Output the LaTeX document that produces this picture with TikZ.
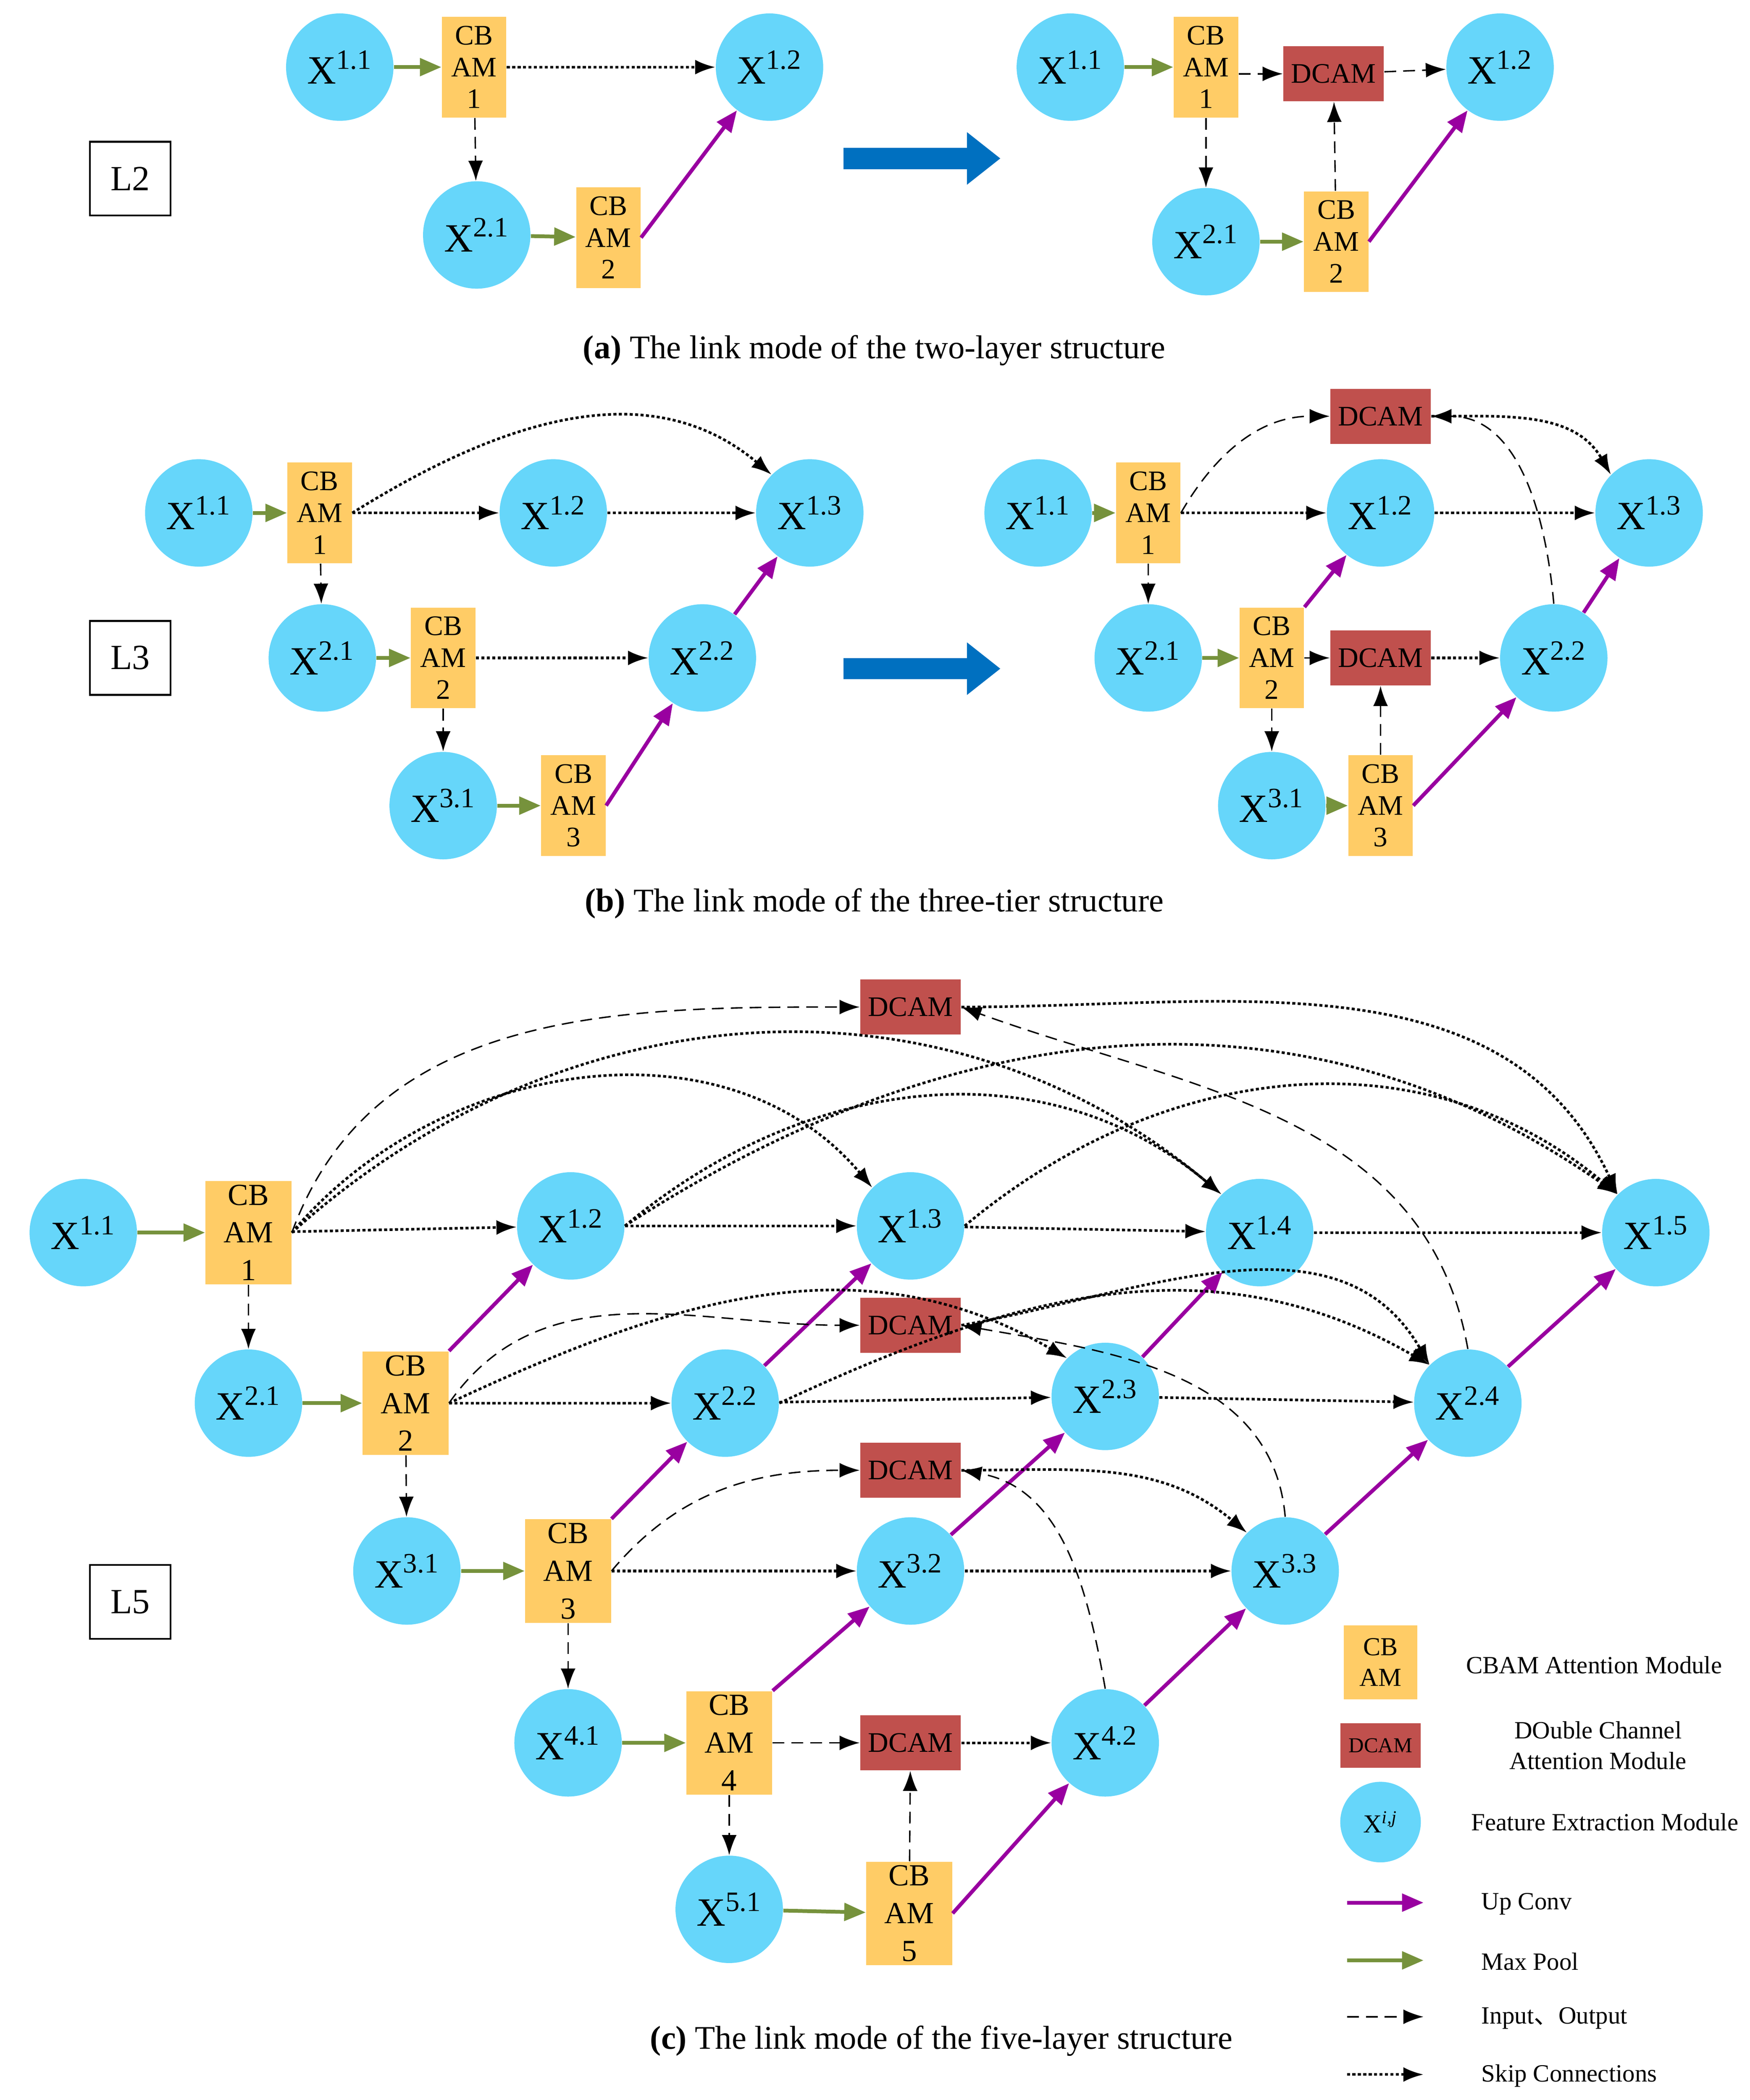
\documentclass[tikz,border=0pt]{standalone}
\usepackage{fontspec}
\setmainfont{Liberation Serif}
\newfontfamily\cjk{Noto Sans CJK SC}
\usetikzlibrary{arrows.meta}
\definecolor{featblue}{RGB}{102,214,250}
\definecolor{cbamorange}{RGB}{255,204,102}
\definecolor{dcamred}{RGB}{192,80,77}
\definecolor{poolgreen}{RGB}{118,146,60}
\definecolor{upviolet}{RGB}{153,0,160}
\definecolor{bigblue}{RGB}{0,112,192}
\newcommand{\Xf}[1]{X\textsuperscript{#1}}
\begin{document}
\begin{tikzpicture}
   [  x=0.02cm, y=-0.02cm,
      feat/.style={circle,fill=featblue,minimum size=1.6cm,inner sep=0pt,font=\fontsize{17}{17}\selectfont},
      cb/.style={fill=cbamorange,minimum width=0.96cm,minimum height=1.5cm,inner sep=0pt,align=center,font=\fontsize{12}{13.5}\selectfont},
      cbL/.style={cb,minimum width=1.28cm,minimum height=1.54cm,font=\fontsize{13}{16}\selectfont},
      dcam/.style={fill=dcamred,minimum width=1.5cm,minimum height=0.82cm,inner sep=0pt,font=\fontsize{12}{13}\selectfont},
      lvl/.style={draw,line width=0.8pt,minimum width=1.2cm,minimum height=1.1cm,font=\fontsize{15}{15}\selectfont},
      capt/.style={font=\fontsize{14}{16}\selectfont},
      leg/.style={font=\fontsize{10.5}{13}\selectfont,align=center},
      up/.style={-{Triangle[length=0.32cm,width=0.26cm]},line width=1.6pt,color=upviolet},
      pool/.style={-{Triangle[length=0.32cm,width=0.26cm]},line width=1.6pt,color=poolgreen},
      io/.style={-{Latex[length=0.3cm,width=0.22cm]},line width=0.6pt,dash pattern=on 5pt off 3pt},
      skip/.style={-{Latex[length=0.3cm,width=0.22cm]},line width=1.1pt,dash pattern=on 1.3pt off 1pt},
      bigarrow/.style={-{Triangle[length=0.5cm,width=0.75cm]},line width=9pt,color=bigblue}]
\useasboundingbox (0,0) rectangle (1303,1564);
% ============================ (a) two layers ============================
\node[lvl] (l2) at (97,133) {L2};
\node[feat] (a11) at (253,50) {\Xf{1.1}};
\node[cb] (acb1) at (353,50) {CB\\AM\\1};
\node[feat] (a12) at (573,50) {\Xf{1.2}};
\node[feat] (a21) at (355,175) {\Xf{2.1}};
\node[cb] (acb2) at (453,177) {CB\\AM\\2};
\draw[pool] (a11) -- (acb1);
\draw[pool] (a21) -- (acb2);
\draw[skip] (acb1) -- (a12);
\draw[io] (acb1) -- (a21);
\draw[up] (acb2.east) -- (a12);
\coordinate (as1) at (628,118); \coordinate (as2) at (745,118);
\draw[bigarrow] (as1) -- (as2);
\node[feat] (b11) at (797,50) {\Xf{1.1}};
\node[cb] (bcb1) at (898,50) {CB\\AM\\1};
\node[dcam] (bdc) at (993,55) {DCAM};
\node[feat] (b12) at (1117,50) {\Xf{1.2}};
\node[feat] (b21) at (898,180) {\Xf{2.1}};
\node[cb] (bcb2) at (995,180) {CB\\AM\\2};
\draw[pool] (b11) -- (bcb1);
\draw[pool] (b21) -- (bcb2);
\draw[io] (bcb1.east |- bdc) -- (bdc);
\draw[io] (bdc) -- (b12);
\draw[io] (bcb1) -- (b21);
\draw[io] (bcb2) -- (bdc);
\draw[up] (bcb2.east) -- (b12);
\node[capt] (capa) at (651,261) {\textbf{(a)} The link mode of the two-layer structure};
% ============================ (b) three tiers ===========================
\node[lvl] (l3) at (97,490) {L3};
\node[feat] (c11) at (148,382) {\Xf{1.1}};
\node[cb] (ccb1) at (238,382) {CB\\AM\\1};
\node[feat] (c12) at (412,382) {\Xf{1.2}};
\node[feat] (c13) at (603,382) {\Xf{1.3}};
\node[feat] (c21) at (240,490) {\Xf{2.1}};
\node[cb] (ccb2) at (330,490) {CB\\AM\\2};
\node[feat] (c22) at (523,490) {\Xf{2.2}};
\node[feat] (c31) at (330,600) {\Xf{3.1}};
\node[cb] (ccb3) at (427,600) {CB\\AM\\3};
\draw[pool] (c11) -- (ccb1);
\draw[pool] (c21) -- (ccb2);
\draw[pool] (c31) -- (ccb3);
\draw[skip] (ccb1) -- (c12);
\draw[skip] (c12) -- (c13);
\draw[skip] (ccb1.east) to[out=32,in=140] (c13.north west);
\draw[skip] (ccb2) -- (c22);
\draw[io] (ccb1) -- (c21);
\draw[io] (ccb2) -- (c31);
\draw[up] (ccb3.east) -- (c22);
\draw[up] (c22) -- (c13);
\coordinate (bs1) at (628,498); \coordinate (bs2) at (745,498);
\draw[bigarrow] (bs1) -- (bs2);
\node[dcam] (ddt) at (1028,310) {DCAM};
\node[feat] (d11) at (773,382) {\Xf{1.1}};
\node[cb] (dcb1) at (855,382) {CB\\AM\\1};
\node[feat] (d12) at (1028,382) {\Xf{1.2}};
\node[feat] (d13) at (1228,382) {\Xf{1.3}};
\node[feat] (d21) at (855,490) {\Xf{2.1}};
\node[cb] (dcb2) at (947,490) {CB\\AM\\2};
\node[dcam] (ddm) at (1028,490) {DCAM};
\node[feat] (d22) at (1157,490) {\Xf{2.2}};
\node[feat] (d31) at (947,600) {\Xf{3.1}};
\node[cb] (dcb3) at (1028,600) {CB\\AM\\3};
\draw[pool] (d11) -- (dcb1);
\draw[pool] (d21) -- (dcb2);
\draw[pool] (d31) -- (dcb3);
\draw[io] (dcb1.east) to[out=60,in=180] (ddt.west);
\draw[io] (d22.north) to[out=95,in=0] (ddt.east);
\draw[skip] (ddt.east) to[out=0,in=120] (d13.north west);
\draw[skip] (dcb1) -- (d12);
\draw[skip] (d12) -- (d13);
\draw[io] (dcb2) -- (ddm);
\draw[io] (dcb3) -- (ddm);
\draw[skip] (ddm) -- (d22);
\draw[io] (dcb1) -- (d21);
\draw[io] (dcb2) -- (d31);
\draw[up] (dcb2.north east) -- (d12);
\draw[up] (dcb3.east) -- (d22);
\draw[up] (d22) -- (d13);
\node[capt] (capb) at (651,673) {\textbf{(b)} The link mode of the three-tier structure};
% ============================ (c) five layers ===========================
\node[lvl] (l5) at (97,1193) {L5};
\node[dcam] (e0) at (678,750) {DCAM};
\node[dcam] (e1) at (678,987) {DCAM};
\node[dcam] (e2) at (678,1095) {DCAM};
\node[dcam] (e3) at (678,1298) {DCAM};
\node[feat] (x11) at (62,918) {\Xf{1.1}};
\node[cbL] (cb1) at (185,918) {CB\\AM\\1};
\node[feat] (x12) at (425,913) {\Xf{1.2}};
\node[feat] (x13) at (678,913) {\Xf{1.3}};
\node[feat] (x14) at (938,918) {\Xf{1.4}};
\node[feat] (x15) at (1233,918) {\Xf{1.5}};
\node[feat] (x21) at (185,1045) {\Xf{2.1}};
\node[cbL] (cb2) at (302,1045) {CB\\AM\\2};
\node[feat] (x22) at (540,1045) {\Xf{2.2}};
\node[feat] (x23) at (823,1040) {\Xf{2.3}};
\node[feat] (x24) at (1093,1045) {\Xf{2.4}};
\node[feat] (x31) at (303,1170) {\Xf{3.1}};
\node[cbL] (cb3) at (423,1170) {CB\\AM\\3};
\node[feat] (x32) at (678,1170) {\Xf{3.2}};
\node[feat] (x33) at (957,1170) {\Xf{3.3}};
\node[feat] (x41) at (423,1298) {\Xf{4.1}};
\node[cbL] (cb4) at (543,1298) {CB\\AM\\4};
\node[feat] (x42) at (823,1298) {\Xf{4.2}};
\node[feat] (x51) at (543,1422) {\Xf{5.1}};
\node[cbL] (cb5) at (677,1425) {CB\\AM\\5};
% max pool
\foreach \a/\b in {x11/cb1,x21/cb2,x31/cb3,x41/cb4,x51/cb5}
   \draw[pool] (\a) -- (\b);
% down
\foreach \a/\b in {cb1/x21,cb2/x31,cb3/x41,cb4/x51}
   \draw[io] (\a) -- (\b);
% up conv
\foreach \a/\b in {cb2.north east/x12,cb3.north east/x22,cb4.north east/x32,cb5.east/x42,
                   x22/x13,x32/x23,x42/x33,x23/x14,x33/x24,x24/x15}
   \draw[up] (\a) -- (\b);
% straight skips
\foreach \a/\b in {cb1/x12,x12/x13,x13/x14,x14/x15,cb2/x22,x22/x23,x23/x24,cb3/x32,x32/x33,e3/x42}
   \draw[skip] (\a) -- (\b);
% curved skips
\draw[skip] (cb1.east) to[out=50,in=130] (x13.north west);
\draw[skip] (cb1.east) to[out=42,in=140] (x14.north west);
\draw[skip] (x12.east) to[out=40,in=140] (x14.north west);
\draw[skip] (x12.east) to[out=33,in=145] (x15.north west);
\draw[skip] (x13.east) to[out=40,in=140] (x15.north west);
\draw[skip] (e0.east) to[out=0,in=115] (x15.north west);
\draw[skip] (cb2.east) to[out=25,in=150] (x23.north west);
\draw[skip] (x22.east) to[out=25,in=150] (x24.north west);
\draw[skip] (e1.east) to[out=10,in=120] (x24.north west);
\draw[skip] (e2.east) to[out=0,in=140] (x33.north west);
% input / output of DCAM
\draw[io] (cb1.east) to[out=70,in=180] (e0.west);
\draw[io] (x24.north) to[out=100,in=-20] (e0.east);
\draw[io] (cb2.east) to[out=55,in=180] (e1.west);
\draw[io] (x33.north) to[out=95,in=-10] (e1.east);
\draw[io] (cb3.east) to[out=50,in=180] (e2.west);
\draw[io] (x42.north) to[out=100,in=-10] (e2.east);
\draw[io] (cb4) -- (e3);
\draw[io] (cb5) -- (e3);
% legend
\node[cb,minimum width=1.1cm,minimum height=1.1cm,font=\fontsize{11}{13}\selectfont] (kcb) at (1028,1238) {CB\\AM};
\node[leg] (tcb) at (1187,1240) {CBAM Attention Module};
\node[dcam,minimum width=1.2cm,minimum height=0.66cm,font=\fontsize{9}{10}\selectfont] (kdc) at (1028,1300) {DCAM};
\node[leg] (tdc) at (1190,1300) {DOuble Channel\\Attention Module};
\node[feat,minimum size=1.2cm,font=\fontsize{11}{11}\selectfont] (kft) at (1028,1357) {X\textsuperscript{\itshape i,j}};
\node[leg] (tft) at (1195,1357) {Feature Extraction Module};
\coordinate (ku1) at (1003,1417); \coordinate (ku2) at (1060,1417);
\coordinate (kp1) at (1003,1460); \coordinate (kp2) at (1060,1460);
\coordinate (ki1) at (1003,1502); \coordinate (ki2) at (1060,1502);
\coordinate (ks1) at (1003,1545); \coordinate (ks2) at (1060,1545);
\draw[up] (ku1) -- (ku2);
\draw[pool] (kp1) -- (kp2);
\draw[io] (ki1) -- (ki2);
\draw[skip] (ks1) -- (ks2);
\node[leg,anchor=west] (tu) at (1097,1418) {Up Conv};
\node[leg,anchor=west] (tp) at (1097,1461) {Max Pool};
\node[leg,anchor=west] (ti) at (1097,1503) {Input{\cjk 、}Output};
\node[leg,anchor=west] (ts) at (1097,1546) {Skip Connections};
\node[capt] (capc) at (701,1520) {\textbf{(c)} The link mode of the five-layer structure};
\end{tikzpicture}
\end{document}
